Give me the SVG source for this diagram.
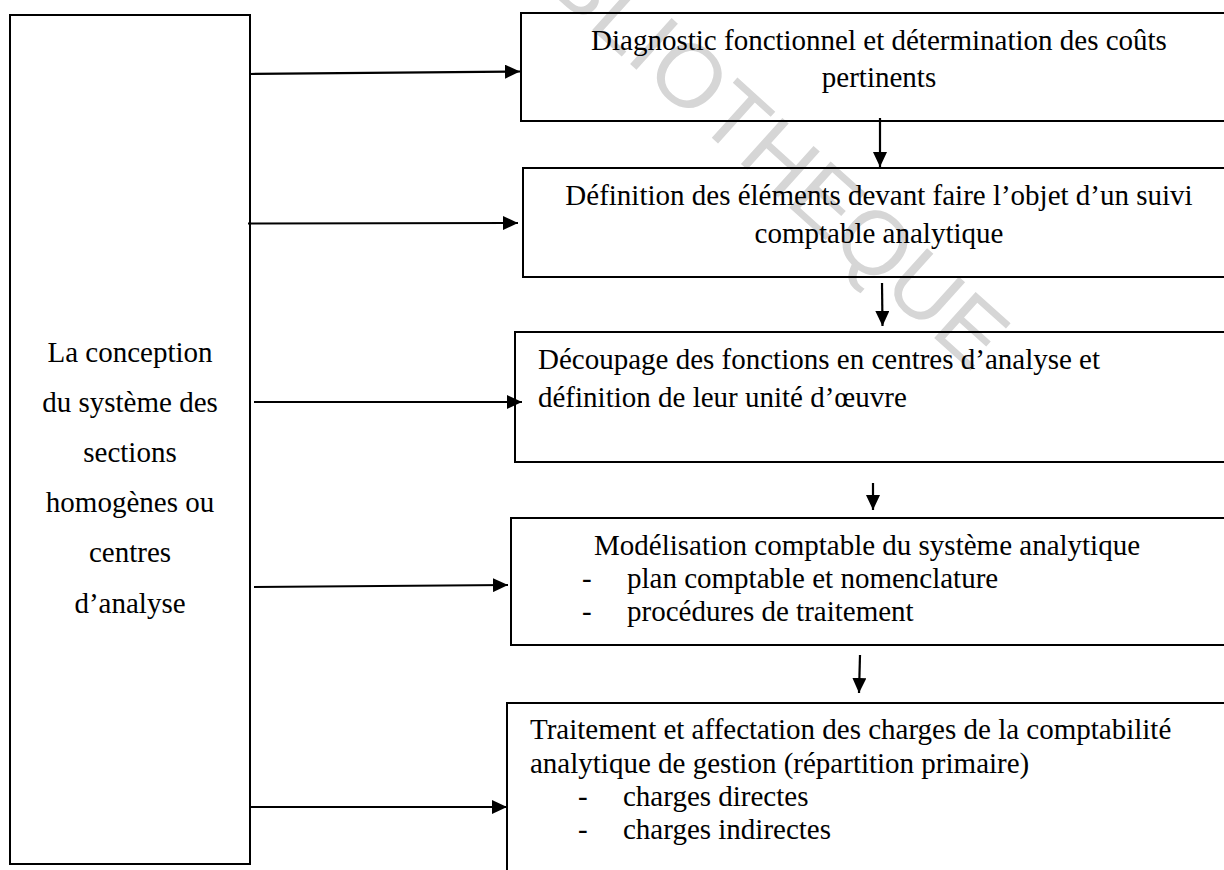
<svg xmlns="http://www.w3.org/2000/svg" width="1224" height="870" viewBox="0 0 1224 870">
  <style>
    .box { fill: none; stroke: #000; stroke-width: 2; }
    .lbl { font-family: "Liberation Serif", "Times New Roman", serif; font-size: 29px; fill: #000; }
    .mid { text-anchor: middle; }
    .wire { fill: none; stroke: #000; stroke-width: 2.2; }
    .mark { font-family: "Liberation Sans", Arial, sans-serif; font-size: 90px; fill: #d6d6d6; }
  </style>
  <defs>
    <marker id="head" viewBox="0 0 15 14" refX="15" refY="7" markerWidth="15" markerHeight="14" markerUnits="userSpaceOnUse" orient="auto">
      <path d="M0,0 L15,7 L0,14 Z" fill="#000"/>
    </marker>
  </defs>
  <rect width="1224" height="870" fill="#fff"/>

  <!-- background watermark -->
  <text class="mark" transform="translate(479,-72) rotate(42)">BIBLIOTHEQUE</text>

  <!-- left column: the overall design step -->
  <g id="conception">
    <rect class="box" x="10" y="15" width="240" height="849"/>
    <text class="lbl mid" x="130" y="362">La conception</text>
    <text class="lbl mid" x="130" y="412">du système des</text>
    <text class="lbl mid" x="130" y="462">sections</text>
    <text class="lbl mid" x="130" y="512">homogènes ou</text>
    <text class="lbl mid" x="130" y="562">centres</text>
    <text class="lbl mid" x="130" y="613">d’analyse</text>
  </g>

  <g id="diagnostic">
    <rect class="box" x="521" y="13" width="720" height="108"/>
    <text class="lbl mid" x="879" y="50">Diagnostic fonctionnel et détermination des coûts</text>
    <text class="lbl mid" x="879" y="87">pertinents</text>
  </g>

  <g id="definition">
    <rect class="box" x="523" y="168" width="720" height="109"/>
    <text class="lbl mid" x="879" y="205">Définition des éléments devant faire l’objet d’un suivi</text>
    <text class="lbl mid" x="879" y="243">comptable analytique</text>
  </g>

  <g id="decoupage">
    <rect class="box" x="515" y="332" width="730" height="130"/>
    <text class="lbl" x="538" y="369">Découpage des fonctions en centres d’analyse et</text>
    <text class="lbl" x="538" y="407">définition de leur unité d’œuvre</text>
  </g>

  <g id="modelisation">
    <rect class="box" x="511" y="518" width="730" height="127"/>
    <text class="lbl" x="594" y="555">Modélisation comptable du système analytique</text>
    <text class="lbl" x="582" y="588">-</text>
    <text class="lbl" x="627" y="588">plan comptable et nomenclature</text>
    <text class="lbl" x="582" y="621">-</text>
    <text class="lbl" x="627" y="621">procédures de traitement</text>
  </g>

  <g id="traitement">
    <rect class="box" x="507" y="703" width="740" height="190"/>
    <text class="lbl" x="530" y="739">Traitement et affectation des charges de la comptabilité</text>
    <text class="lbl" x="530" y="773">analytique de gestion (répartition primaire)</text>
    <text class="lbl" x="578" y="806">-</text>
    <text class="lbl" x="623" y="806">charges directes</text>
    <text class="lbl" x="578" y="839">-</text>
    <text class="lbl" x="623" y="839">charges indirectes</text>
  </g>

  <g id="connectors">
    <line class="wire" x1="250" y1="74" x2="520" y2="71.5" marker-end="url(#head)"/>
    <line class="wire" x1="248" y1="223.5" x2="518" y2="223" marker-end="url(#head)"/>
    <line class="wire" x1="254" y1="402" x2="522" y2="402" marker-end="url(#head)"/>
    <line class="wire" x1="254" y1="587" x2="508" y2="585" marker-end="url(#head)"/>
    <line class="wire" x1="250" y1="807" x2="507" y2="807" marker-end="url(#head)"/>

    <line class="wire" x1="880" y1="118" x2="880" y2="167" marker-end="url(#head)"/>
    <line class="wire" x1="882" y1="283" x2="882.5" y2="326" marker-end="url(#head)"/>
    <line class="wire" x1="873" y1="483" x2="873" y2="510" marker-end="url(#head)"/>
    <line class="wire" x1="860" y1="655" x2="859" y2="693" marker-end="url(#head)"/>
  </g>
</svg>
